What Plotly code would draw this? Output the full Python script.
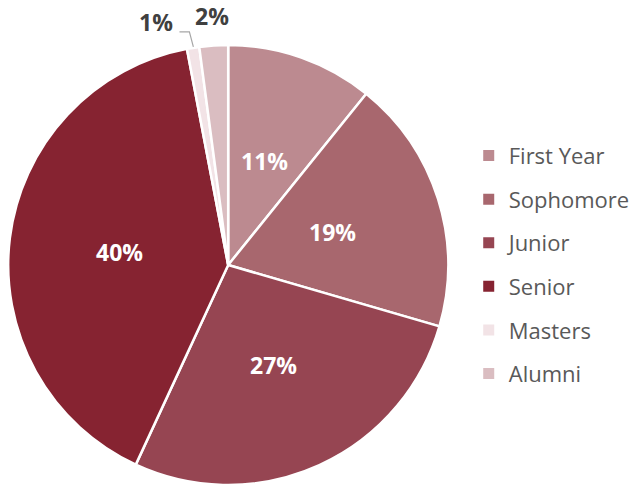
import math
import plotly.graph_objects as go

categories = ["First Year", "Sophomore", "Junior", "Senior", "Masters", "Alumni"]
values = [10.8, 18.7, 27.4, 40.1, 0.9, 2.1]
colors = ["#BC8A90", "#A8676E", "#964552", "#862331", "#F2E3E6", "#DABDC1"]
label_inside = [True, True, True, True, False, False]

W, H = 635, 485
M_T, M_B = 45, 0
DOM_X = [8 / W, 452 / W]

fig = go.Figure()
fig.add_trace(go.Pie(
    labels=categories,
    values=values,
    sort=False,
    direction="clockwise",
    rotation=0,
    marker=dict(colors=colors, line=dict(color="white", width=2.5)),
    textinfo="none",
    showlegend=False,
    domain=dict(x=DOM_X, y=[0, 1]),
    hoverinfo="label+percent",
))

# Geometry of the pie (pixels) derived from the domain
plot_h = H - M_T - M_B
cx = (DOM_X[0] + DOM_X[1]) / 2 * W
cy = M_T + plot_h / 2
R = min((DOM_X[1] - DOM_X[0]) * W, plot_h) / 2


def to_paper(px, py):
    return px / W, (H - M_B - py) / plot_h


inside_font = dict(family="Open Sans", size=23, color="white", weight="bold")
outside_font = dict(family="Open Sans", size=23, color="#404040", weight="bold")

total = sum(values)
cum = 0.0
for name, v, inside in zip(categories, values, label_inside):
    mid = (cum + v / 2) / total * 2 * math.pi
    cum += v
    pct = f"{round(v / total * 100):.0f}%"
    if inside:
        px = cx + 0.5 * R * math.sin(mid)
        py = cy - 0.5 * R * math.cos(mid)
        x, y = to_paper(px, py)
        fig.add_annotation(x=x, y=y, xref="paper", yref="paper", text=pct,
                           showarrow=False, xanchor="center", yanchor="middle",
                           font=inside_font)
    elif name == "Masters":
        # leader line: from slice edge up, then left to the label (elbow)
        ex = cx + R * math.sin(mid)
        ey = cy - R * math.cos(mid)
        kx, ky = ex - 4, ey - 16
        tx, ty = kx - 10, ky
        p0, p1, p2 = to_paper(ex, ey - 1), to_paper(kx, ky), to_paper(tx, ty)
        fig.add_shape(type="path", xref="paper", yref="paper",
                      path=f"M {p0[0]} {p0[1]} L {p1[0]} {p1[1]} L {p2[0]} {p2[1]}",
                      line=dict(color="#A6A6A6", width=1.2))
        lx, ly = to_paper(tx - 24, ty - 10)
        fig.add_annotation(x=lx, y=ly, xref="paper", yref="paper", text=pct,
                           showarrow=False, xanchor="center", yanchor="middle",
                           font=outside_font)
    else:
        px = cx + (R + 30) * math.sin(mid)
        py = cy - (R + 30) * math.cos(mid)
        x, y = to_paper(px, py)
        fig.add_annotation(x=x, y=y, xref="paper", yref="paper", text=pct,
                           showarrow=False, xanchor="center", yanchor="middle",
                           font=outside_font)

for name, c in zip(categories, colors):
    fig.add_trace(go.Scatter(
        x=[None], y=[None], mode="markers",
        marker=dict(symbol="square", size=11, color=c),
        name=name, legendgroup=name, showlegend=True,
    ))

fig.update_layout(
    width=W, height=H,
    margin=dict(l=0, r=0, t=M_T, b=M_B),
    paper_bgcolor="white", plot_bgcolor="white",
    xaxis=dict(visible=False), yaxis=dict(visible=False),
    legend=dict(
        x=0.744, y=0.796, xanchor="left", yanchor="top",
        font=dict(family="Open Sans", size=22, color="#595959"),
        tracegroupgap=12,
        bgcolor="rgba(0,0,0,0)",
    ),
)

fig.write_html("out.html", config={"displayModeBar": False},
               post_script="document.body.style.margin='0';")
